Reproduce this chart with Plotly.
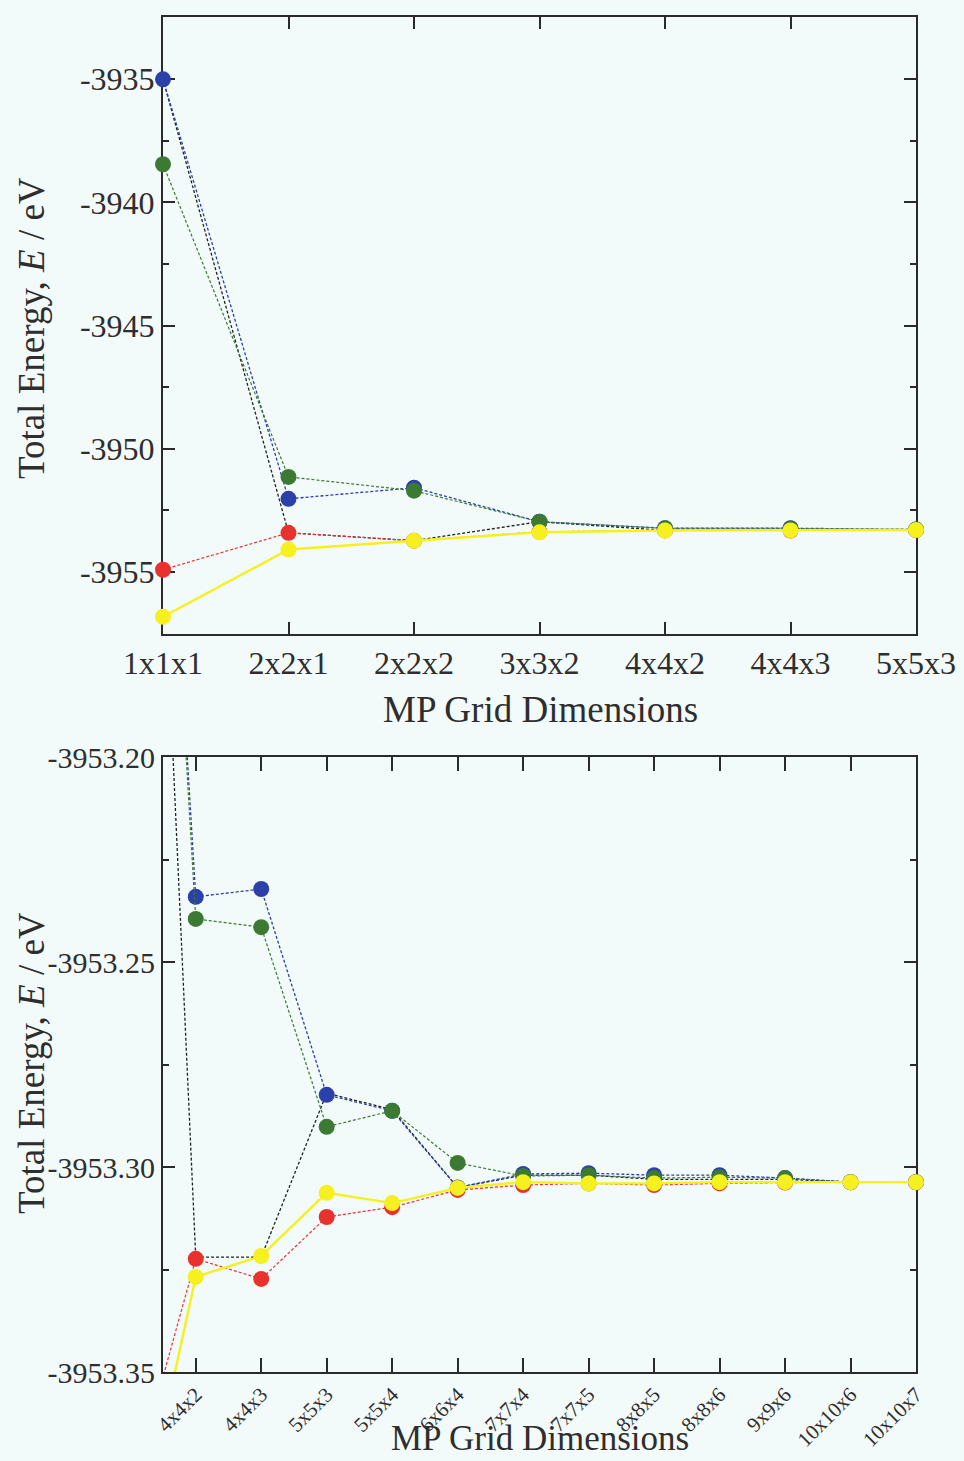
import plotly.graph_objects as go

grids = ["1x1x1", "2x2x1", "2x2x2", "3x3x2", "4x4x2", "4x4x3", "5x5x3", "5x5x4",
         "6x6x4", "7x7x4", "7x7x5", "8x8x5", "8x8x6", "9x9x6", "10x10x6", "10x10x7"]

black = [-3935.0, -3953.42, -3953.74, -3952.97, -3953.322, -3953.322, -3953.282, -3953.286,
         -3953.305, -3953.302, -3953.302, -3953.303, -3953.303, -3953.303, -3953.3037, -3953.3037]
red = [-3954.92, -3953.42, -3953.74, -3953.38, -3953.3224, -3953.3273, -3953.3122, -3953.3098,
       -3953.3056, -3953.3044, -3953.3040, -3953.3044, -3953.3040, -3953.3038, -3953.3037, -3953.3037]
blue = [-3935.0, -3952.04, -3951.59, -3952.97, -3953.2341, -3953.2322, -3953.2824, -3953.2863,
        -3953.3050, -3953.3017, -3953.3015, -3953.3020, -3953.3020, -3953.3027, -3953.3037, -3953.3037]
green = [-3938.45, -3951.15, -3951.71, -3952.97, -3953.2395, -3953.2415, -3953.2902, -3953.2863,
         -3953.2990, -3953.3022, -3953.3020, -3953.3027, -3953.3025, -3953.3027, -3953.3037, -3953.3037]
yellow = [-3956.83, -3954.10, -3953.74, -3953.40, -3953.3268, -3953.3217, -3953.3063, -3953.3088,
          -3953.3051, -3953.3037, -3953.3040, -3953.3040, -3953.3037, -3953.3037, -3953.3037, -3953.3037]

top_yticks = [-3955, -3950, -3945, -3940, -3935]
bottom_yticks = [-3953.35, -3953.30, -3953.25, -3953.20]

TOP_N = 7          # grids shown in the upper panel
BOTTOM_START = 3   # first grid used for the lower panel lines (off-scale)
BOTTOM_MARK = 4    # first grid with visible markers in the lower panel

series = [
    ("black", black, "#222222", "3px,2px", 1.3, False),
    ("red", red, "#e8322e", "3px,2px", 1.2, True),
    ("blue", blue, "#2b40a8", "3px,2px", 1.3, True),
    ("green", green, "#3c7a34", "3px,2px", 1.2, True),
    ("yellow", yellow, "#f6f01e", "solid", 2.4, True),
]

FONT = "Liberation Serif, Times New Roman, serif"
BG = "#f3fafa"
AX = "#2a2a2a"
TXT = "#2e2e2e"
MS = 16

fig = go.Figure()
idx = list(range(len(grids)))

for name, vals, col, dash, w, mk in series:
    fig.add_trace(go.Scatter(
        x=idx[:TOP_N], y=vals[:TOP_N], mode="lines+markers" if mk else "lines",
        line=dict(color=col, width=w, dash=dash),
        marker=dict(size=MS, color=col, line=dict(width=0)),
        cliponaxis=False, showlegend=False, xaxis="x", yaxis="y"))
    fig.add_trace(go.Scatter(
        x=idx[BOTTOM_START:], y=vals[BOTTOM_START:], mode="lines",
        line=dict(color=col, width=w, dash=dash),
        showlegend=False, xaxis="x2", yaxis="y2"))
    if mk:
        fig.add_trace(go.Scatter(
            x=idx[BOTTOM_MARK:], y=vals[BOTTOM_MARK:], mode="markers",
            marker=dict(size=MS, color=col, line=dict(width=0)),
            cliponaxis=False, showlegend=False, xaxis="x2", yaxis="y2"))

common_axis = dict(showline=True, linecolor=AX, linewidth=2, mirror="ticks",
                   ticks="inside", tickcolor=AX, tickwidth=1.5, showgrid=False,
                   zeroline=False, layer="below traces", automargin=False,
                   tickfont=dict(family=FONT, size=32, color=TXT))

top_dom = [1 - 617 / 1355, 1.0]
bot_dom = [0.0, 1 - 740 / 1355]

fig.update_layout(
    width=964, height=1461,
    margin=dict(l=163, r=48, t=17, b=89, autoexpand=False),
    paper_bgcolor=BG, plot_bgcolor=BG,
    xaxis=dict(common_axis, domain=[0, 1], anchor="y", range=[0, TOP_N - 1],
               tickvals=idx[:TOP_N], ticktext=grids[:TOP_N], ticklen=12),
    yaxis=dict(common_axis, domain=top_dom, anchor="x", range=[-3957.53, -3932.47],
               tickvals=top_yticks, ticktext=[f"-{abs(v):.0f}" for v in top_yticks],
               ticklen=12,
               minor=dict(dtick=2.5, tick0=-3935, ticks="inside", ticklen=6,
                          tickcolor=AX, tickwidth=1.5)),
    xaxis2=dict(common_axis, domain=[0, 1], anchor="y2", range=[BOTTOM_MARK - 0.5, len(grids) - 1],
                tickvals=idx[BOTTOM_MARK:], ticktext=grids[BOTTOM_MARK:], ticklen=14,
                tickangle=-45, tickfont=dict(family=FONT, size=21, color=TXT)),
    yaxis2=dict(common_axis, domain=bot_dom, anchor="x2", range=[-3953.35, -3953.20],
                tickvals=bottom_yticks, ticktext=[f"-{abs(v):.2f}" for v in bottom_yticks],
                ticklen=12, tickfont=dict(family=FONT, size=30, color=TXT),
                minor=dict(dtick=0.025, tick0=-3953.2, ticks="inside", ticklen=6,
                           tickcolor=AX, tickwidth=1.5)),
)

def px_x(p):
    return (p - 163) / 753

def px_y(p):
    return 1 - (p - 17) / 1355

title_font = dict(family=FONT, size=37, color=TXT)
ann = [
    dict(text="MP Grid Dimensions", x=px_x(540), y=px_y(710), xref="paper", yref="paper",
         showarrow=False, font=title_font, xanchor="center", yanchor="middle"),
    dict(text="MP Grid Dimensions", x=px_x(540), y=px_y(1460), xref="paper", yref="paper",
         showarrow=False, font=dict(family=FONT, size=35, color=TXT),
         xanchor="center", yanchor="bottom"),
    dict(text="Total Energy, <i>E</i> / eV", x=px_x(31), y=px_y(328), xref="paper", yref="paper",
         showarrow=False, font=title_font, textangle=-90, xanchor="center", yanchor="middle"),
    dict(text="Total Energy, <i>E</i> / eV", x=px_x(31), y=px_y(1063), xref="paper", yref="paper",
         showarrow=False, font=title_font, textangle=-90, xanchor="center", yanchor="middle"),
]
fig.update_layout(annotations=ann)

fig.write_html("out.html")
